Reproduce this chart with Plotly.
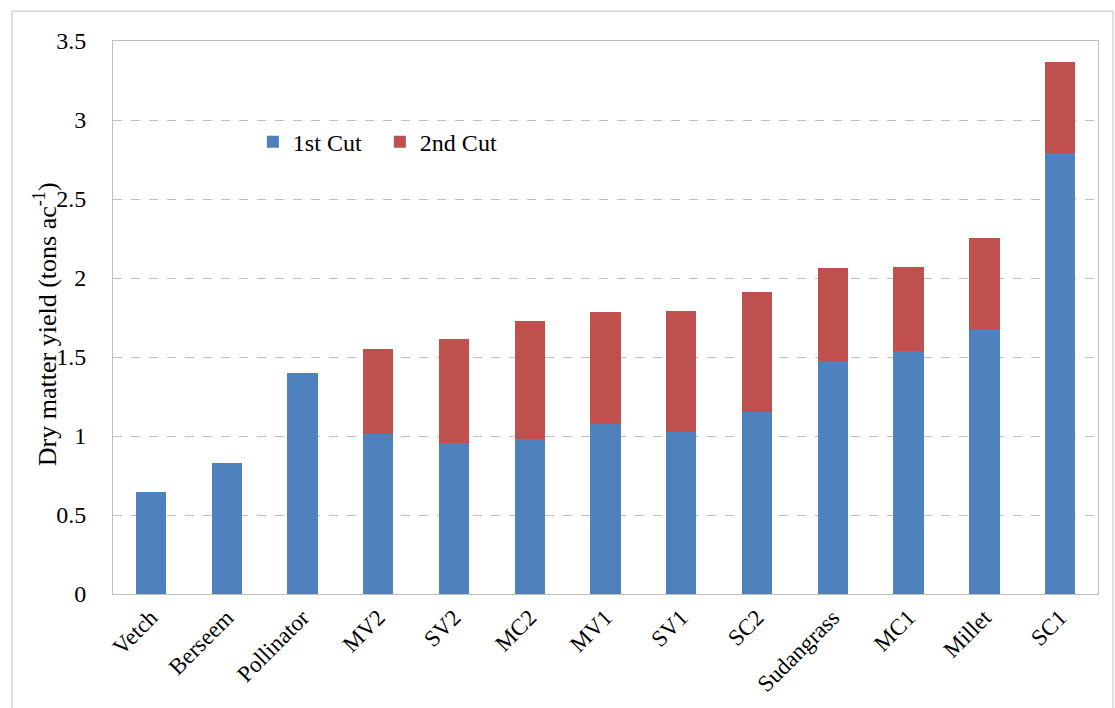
import plotly.graph_objects as go

categories = ["Vetch", "Berseem", "Pollinator", "MV2", "SV2", "MC2", "MV1", "SV1",
              "SC2", "Sudangrass", "MC1", "Millet", "SC1"]
first_cut = [0.645, 0.83, 1.40, 1.013, 0.956, 0.981, 1.076, 1.025, 1.150, 1.475, 1.535, 1.677, 2.79]
totals = [0.645, 0.83, 1.40, 1.551, 1.614, 1.728, 1.785, 1.791, 1.911, 2.063, 2.070, 2.253, 3.367]
second_cut = [round(t - f, 3) for t, f in zip(totals, first_cut)]
y_ticks = [0, 0.5, 1, 1.5, 2, 2.5, 3, 3.5]
y_tick_text = ["0", "0.5", "1", "1.5", "2", "2.5", "3", "3.5"]
y_title = "Dry matter yield (tons ac<sup>-1</sup>)"

FONT = "Liberation Serif, Times New Roman, serif"

fig = go.Figure()
fig.add_trace(go.Bar(x=categories, y=first_cut, name="1st Cut",
                     marker=dict(color="#4F81BD", line=dict(width=0))))
fig.add_trace(go.Bar(x=categories, y=second_cut, name="2nd Cut",
                     marker=dict(color="#C0504D", line=dict(width=0))))

fig.update_layout(
    barmode="stack",
    bargap=0.6,
    width=1115, height=708,
    margin=dict(l=113, r=17, t=41, b=114),
    paper_bgcolor="white",
    plot_bgcolor="white",
    font=dict(family=FONT, color="black", size=24),
    showlegend=True,
    legend=dict(orientation="h", x=0.142, y=0.817, xanchor="left", yanchor="middle",
                font=dict(size=24, family=FONT), bgcolor="rgba(0,0,0,0)",
                entrywidth=82, entrywidthmode="pixels",
                itemwidth=30, traceorder="normal", tracegroupgap=0),
    xaxis=dict(
        tickangle=-45,
        tickfont=dict(size=23, family=FONT),
        showline=True, linecolor="#BFBFBF", linewidth=1, mirror=True,
        showgrid=False, ticks="", range=[-0.5, 12.5],
    ),
    yaxis=dict(
        range=[0, 3.5],
        tickvals=y_ticks, ticktext=y_tick_text,
        tickfont=dict(size=24, family=FONT),
        showgrid=True, gridcolor="#BFBFBF", griddash="dash", gridwidth=1,
        showline=True, linecolor="#BFBFBF", linewidth=1, mirror=True,
        zeroline=False, ticks="", ticklabelstandoff=21,
    ),
    annotations=[dict(text=y_title, xref="paper", yref="paper",
                      x=-0.069, y=0.488, xanchor="center", yanchor="middle",
                      textangle=-90, showarrow=False,
                      font=dict(size=26, family=FONT, color="black"))],
    shapes=[dict(type="rect", xref="paper", yref="paper",
                 x0=-0.1025, x1=1.0152, y0=-0.3, y1=1.054,
                 line=dict(color="#BFBFBF", width=1), fillcolor="rgba(0,0,0,0)",
                 layer="below")],
)

fig.write_html("out.html")
